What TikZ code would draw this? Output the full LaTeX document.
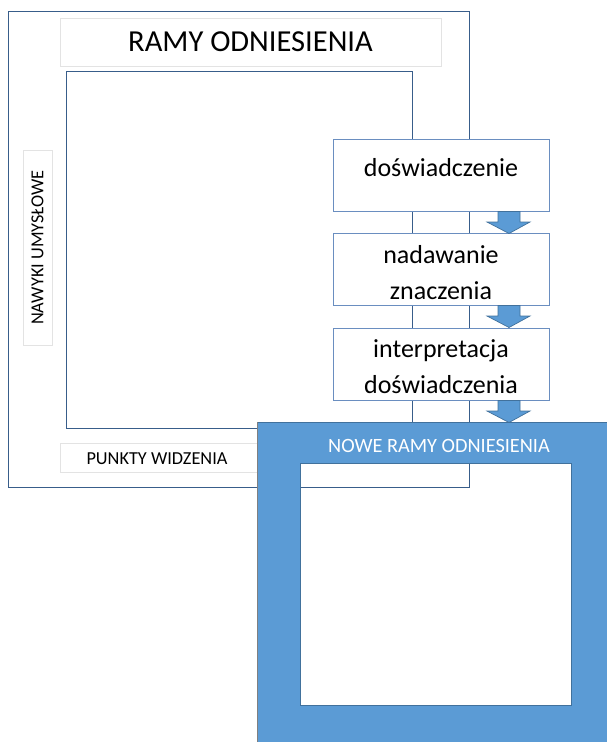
\documentclass[tikz,border=0pt]{standalone}
\usepackage{fontspec}
\setmainfont{Carlito}
\begin{document}
\begin{tikzpicture}[x=1pt,y=-1pt,
  frameline/.style={draw=frameblue,line width=0.8pt},
  graybox/.style={draw=lightgray!60,line width=0.8pt,fill=white},
  flowbox/.style={draw=flowblue,line width=0.8pt,fill=white,minimum width=216pt,minimum height=72pt,inner sep=0pt},
  flowtext/.style={align=center,font=\fontsize{26}{36}\selectfont,inner sep=0pt},
  blockarrow/.style={fill=arrowblue,draw=arrowedge,line width=0.7pt}
]
\definecolor{frameblue}{HTML}{385D8A}
\definecolor{flowblue}{HTML}{6A8EC0}
\definecolor{arrowblue}{HTML}{5B9BD5}
\definecolor{arrowedge}{HTML}{41719C}
\definecolor{lightgray}{HTML}{D0D0D0}
\useasboundingbox (0,0) rectangle (607,742);
% outer frame
\draw[frameline] (8,11) rectangle (469,487);
% title box
\node[graybox,minimum width=381pt,minimum height=48pt,inner sep=0pt,font=\fontsize{30.5}{34}\selectfont] (title) at (250.5,42) {RAMY ODNIESIENIA};
% inner frame
\draw[frameline] (66,71) rectangle (412,428);
% side boxes
\node[graybox,minimum width=195pt,minimum height=29pt,inner sep=0pt,rotate=90,font=\fontsize{18.3}{20}\selectfont] (nawyki) at (37.5,247.5) {NAWYKI UMYSŁOWE};
\draw[graybox] (60,443) rectangle (265,472);
\node[font=\fontsize{18.3}{20}\selectfont,inner sep=0pt] (punkty) at (157,459) {PUNKTY WIDZENIA};
% flow boxes
\node[flowbox] (b1) at (441,175) {};
\node[flowbox] (b2) at (441,269) {};
\node[flowbox] (b3) at (441,364) {};
\node[flowtext] (t1) at ([yshift=7pt]b1.center) {doświadczenie};
\node[flowtext] (t2) at ([yshift=-4pt]b2.center) {nadawanie\\znaczenia};
\node[flowtext] (t3) at ([yshift=-3pt]b3.center) {interpretacja\\doświadczenia};
% block arrows
\foreach \y in {211,305,400}{
  \draw[blockarrow] (498,\y+0.5) -- (520,\y+0.5) -- (520,\y+11) -- (530,\y+11) -- (509,\y+22.5) -- (487,\y+11) -- (498,\y+11) -- cycle;
}
% new frame
\path[fill=arrowblue,even odd rule,draw=arrowedge,line width=0.7pt] (257,422) rectangle (607,742) (300,463) rectangle (571,705);
\draw[gray,line width=0.8pt] (257,422) -- (257,742);
\node[text=white,font=\fontsize{20.3}{22}\selectfont,inner sep=0pt] (nowe) at (439,446) {NOWE RAMY ODNIESIENIA};
\end{tikzpicture}
\end{document}
